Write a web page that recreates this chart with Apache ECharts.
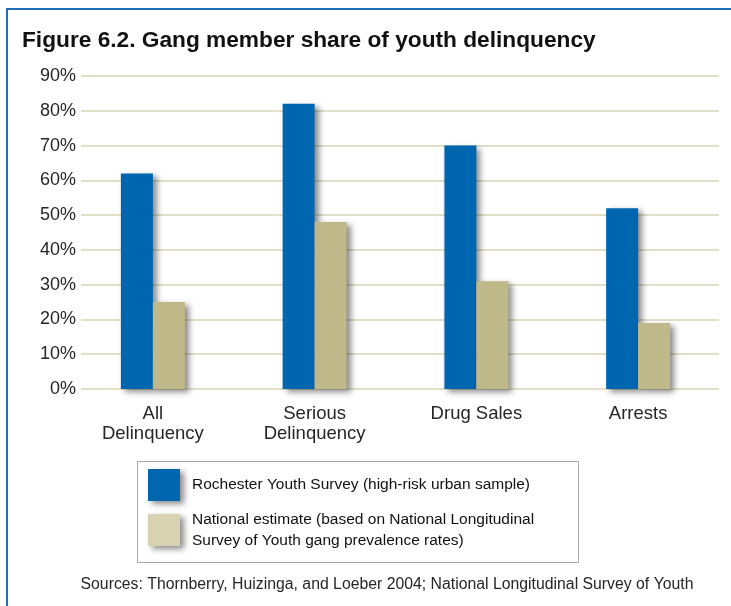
<!DOCTYPE html>
<html>
<head>
<meta charset="utf-8">
<script src="https://cdn.jsdelivr.net/npm/echarts@6/dist/echarts.min.js"></script>
<style>
html,body{margin:0;padding:0;background:#fff;}
#chart{width:731px;height:606px;}
</style>
</head>
<body>
<div id="chart"></div>
<script>
const categories = ['All\nDelinquency', 'Serious\nDelinquency', 'Drug Sales', 'Arrests'];
const rochester = [62, 82, 70, 52];
const national = [25, 48, 31, 19];
const seriesNames = ['Rochester Youth Survey (high-risk urban sample)', 'National estimate (based on National Longitudinal Survey of Youth gang prevalence rates)'];
const legendLabels = ['Rochester Youth Survey (high-risk urban sample)', 'National estimate (based on National Longitudinal\nSurvey of Youth gang prevalence rates)'];
const yTicks = [0, 10, 20, 30, 40, 50, 60, 70, 80, 90];
const titleText = 'Figure 6.2. Gang member share of youth delinquency';
const sourceText = 'Sources: Thornberry, Huizinga, and Loeber 2004; National Longitudinal Survey of Youth';

const FONT = '"Liberation Sans", Arial, Helvetica, sans-serif';
const BLUE = '#0066b0';
const TAN = '#bfb888';
const TAN_LEGEND = '#d6d2b2';
const TEXT = '#262626';

const chart = echarts.init(document.getElementById('chart'), null, {renderer: 'canvas'});

const barShadow = {shadowColor: 'rgba(0,0,0,0.45)', shadowBlur: 6, shadowOffsetX: 4, shadowOffsetY: 3};

chart.setOption({
  backgroundColor: '#fff',
  animation: false,
  title: {
    text: titleText,
    left: 22, top: 29, padding: 0,
    textStyle: {fontFamily: FONT, fontSize: 22.7, fontWeight: 'bold', color: '#111'}
  },
  legend: {
    orient: 'vertical',
    left: 148, top: 469, padding: 0,
    itemWidth: 32, itemHeight: 32, itemGap: 5,
    icon: 'rect',
    data: [
      {name: seriesNames[0], itemStyle: Object.assign({color: BLUE}, barShadow)},
      {name: seriesNames[1], itemStyle: Object.assign({color: TAN_LEGEND}, barShadow)}
    ],
    formatter: function (name) { return legendLabels[seriesNames.indexOf(name)]; },
    textStyle: {fontFamily: FONT, fontSize: 15.5, color: '#111', lineHeight: 21, padding: [6, 0, 0, 7]},
    selectedMode: false
  },
  grid: [
    {left: 72, right: 12, top: 76, bottom: 217},
    {left: 81, right: 12, top: 76, bottom: 217}
  ],
  xAxis: [
    {
      type: 'category', gridIndex: 0, data: categories,
      axisLine: {show: false}, axisTick: {show: false},
      axisLabel: {fontFamily: FONT, fontSize: 18.5, color: TEXT, lineHeight: 20, margin: 15, interval: 0}
    },
    {
      type: 'category', gridIndex: 1, data: categories, show: false
    }
  ],
  yAxis: [
    {
      type: 'value', gridIndex: 0, min: 0, max: 90, interval: 10,
      show: false, splitLine: {show: false}
    },
    {
      type: 'value', gridIndex: 1, min: 0, max: 90, interval: 10,
      axisLine: {show: false}, axisTick: {show: false},
      splitLine: {lineStyle: {color: '#e2dec8', width: 2}},
      axisLabel: {fontFamily: FONT, fontSize: 18, color: TEXT, margin: 5,
        formatter: function (v) { return yTicks.indexOf(v) >= 0 ? v + '%' : ''; }}
    }
  ],
  series: [
    {
      name: seriesNames[0], type: 'bar', xAxisIndex: 0, yAxisIndex: 0,
      data: rochester, barWidth: 32, barGap: '0%',
      itemStyle: Object.assign({color: BLUE}, barShadow)
    },
    {
      name: seriesNames[1], type: 'bar', xAxisIndex: 0, yAxisIndex: 0,
      data: national, barWidth: 32, barGap: '0%',
      itemStyle: Object.assign({color: TAN}, barShadow)
    }
  ],
  graphic: [
    {type: 'line', shape: {x1: 7, y1: 9, x2: 731, y2: 9}, style: {stroke: '#1f6db8', lineWidth: 2}, z: 10},
    {type: 'line', shape: {x1: 7, y1: 8, x2: 7, y2: 606}, style: {stroke: '#1f6db8', lineWidth: 2}, z: 10},
    {type: 'rect', shape: {x: 137.5, y: 461.5, width: 441, height: 101}, style: {fill: 'none', stroke: '#a8a8a8', lineWidth: 1}, z: 0},
    {type: 'text', x: 387, y: 585, style: {text: sourceText, fontFamily: FONT, fontSize: 15.8, fill: TEXT, textAlign: 'center', textVerticalAlign: 'middle'}}
  ]
});
</script>
</body>
</html>
